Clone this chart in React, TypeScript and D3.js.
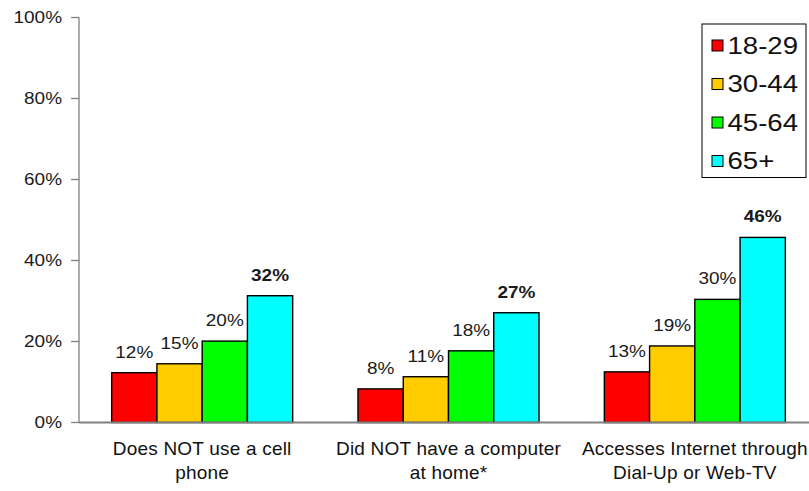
import React from "react";
import * as d3 from "d3";

const categories = [
  ["Does NOT use a cell", "phone"],
  ["Did NOT have a computer", "at home*"],
  ["Accesses Internet through", "Dial-Up or Web-TV"],
];
const seriesNames = ["18-29", "30-44", "45-64", "65+"];
const seriesColors = ["#FF0000", "#FFCC00", "#00FF00", "#00FFFF"];
const values18_29 = [12.3, 8.3, 12.5];
const values30_44 = [14.5, 11.3, 18.9];
const values45_64 = [20.1, 17.7, 30.4];
const values65 = [31.3, 27.1, 45.7];
const labels18_29 = ["12%", "8%", "13%"];
const labels30_44 = ["15%", "11%", "19%"];
const labels45_64 = ["20%", "18%", "30%"];
const labels65 = ["32%", "27%", "46%"];
const yTicks = [0, 20, 40, 60, 80, 100];

const seriesValues = [values18_29, values30_44, values45_64, values65];
const seriesLabels = [labels18_29, labels30_44, labels45_64, labels65];

const W = 809;
const H = 491;
const left = 79;
const right = 818;
const top = 17.5;
const bottom = 422.5;
const font = "'Liberation Sans', Arial, sans-serif";

function SText(props: {
  x: number;
  y: number;
  sx: number;
  size: number;
  anchor?: string;
  bold?: boolean;
  dy?: string;
  fill?: string;
  children: React.ReactNode;
}) {
  return (
    <text
      transform={`translate(${props.x},${props.y}) scale(${props.sx},1)`}
      textAnchor={props.anchor || "start"}
      fontSize={props.size}
      fontWeight={props.bold ? "bold" : "normal"}
      dy={props.dy}
      fill={props.fill || "#111"}
    >
      {props.children}
    </text>
  );
}

export default function App() {
  const x0 = d3
    .scaleBand<number>()
    .domain(categories.map((_, i) => i))
    .range([left, right]);
  const groupW = 181;
  const x1 = d3
    .scaleBand<number>()
    .domain(seriesNames.map((_, i) => i))
    .range([0, groupW]);
  const y = d3.scaleLinear().domain([0, 100]).range([bottom, top]);

  return (
    <svg
      width={W}
      height={H}
      style={{ position: "absolute", left: 0, top: 0, background: "#fff" }}
      fontFamily={font}
    >
      {categories.map((_, ci) => {
        const gx = x0(ci)! + (x0.bandwidth() - groupW) / 2;
        return (
          <g key={ci} transform={`translate(${gx},0)`}>
            {seriesNames.map((_, si) => {
              const v = seriesValues[si][ci];
              const bx = x1(si)!;
              return (
                <g key={si}>
                  <rect
                    x={bx}
                    y={y(v)}
                    width={x1.bandwidth()}
                    height={y(0) - y(v)}
                    fill={seriesColors[si]}
                    stroke="#000"
                    strokeWidth={1.4}
                  />
                  <SText
                    x={bx + x1.bandwidth() / 2}
                    y={y(v) - 15}
                    sx={1.15}
                    size={16.5}
                    anchor="middle"
                    bold={si === 3}
                    fill="#1a1a1a"
                  >
                    {seriesLabels[si][ci]}
                  </SText>
                </g>
              );
            })}
          </g>
        );
      })}
      <line x1={left} x2={W} y1={bottom} y2={bottom} stroke="#808080" strokeWidth={2} />
      <line x1={left} x2={left} y1={top} y2={bottom} stroke="#808080" strokeWidth={1.3} />
      {yTicks.map((t) => (
        <g key={t}>
          <line x1={left - 8} x2={left} y1={y(t)} y2={y(t)} stroke="#808080" strokeWidth={1.3} />
          <SText x={left - 17} y={y(t)} sx={1.15} size={16.5} anchor="end" dy="0.35em" fill="#1a1a1a">
            {t}%
          </SText>
        </g>
      ))}
      {categories.map((lines, ci) =>
        lines.map((l, li) => (
          <text
            key={`${ci}-${li}`}
            x={x0(ci)! + x0.bandwidth() / 2}
            y={455 + li * 24}
            textAnchor="middle"
            fontSize={19}
            letterSpacing={0.2}
            fill="#111"
          >
            {l}
          </text>
        ))
      )}
      <rect x={702} y={24} width={104} height={153.5} fill="#fff" stroke="#000" strokeWidth={1} />
      {seriesNames.map((s, i) => (
        <g key={s}>
          <rect
            x={712}
            y={40 + i * 38.5}
            width={11}
            height={11}
            fill={seriesColors[i]}
            stroke="#000"
            strokeWidth={1}
          />
          <SText x={727.5} y={45.5 + i * 38.5} sx={1.2} size={23} dy="0.36em">
            {s}
          </SText>
        </g>
      ))}
    </svg>
  );
}
